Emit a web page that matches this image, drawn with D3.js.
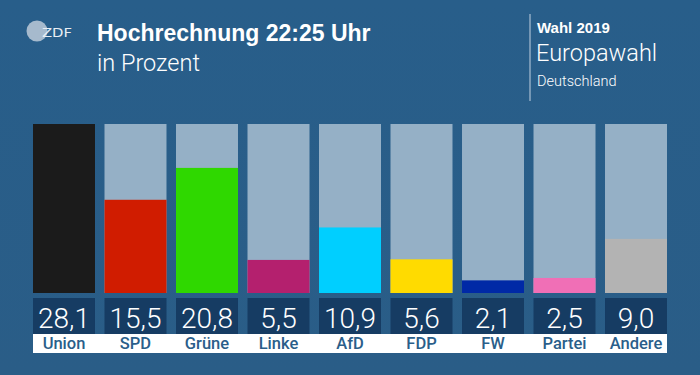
<!DOCTYPE html>
<html>
<head>
<meta charset="utf-8">
<script src="https://cdn.jsdelivr.net/npm/d3@7"></script>
<style>
  body { margin: 0; background: #285d88; }
  svg { display: block; }
</style>
</head>
<body>
<div id="chart"></div>
<script>
var parties = ["Union", "SPD", "Grüne", "Linke", "AfD", "FDP", "FW", "Partei", "Andere"];
var values = [28.1, 15.5, 20.8, 5.5, 10.9, 5.6, 2.1, 2.5, 9.0];
var colors = ["#1b1b1b", "#d01c00", "#2fd800", "#b4206e", "#00cfff", "#ffdb00", "#0029a6", "#f06fb6", "#b3b3b3"];

function init() {
    var w = 700;
    var h = 375;

    var svg = d3.select("#chart")
        .append("svg")
        .attr("width", w)
        .attr("height", h);

    // background
    var grad = svg.append("defs").append("linearGradient")
        .attr("id", "bg")
        .attr("x1", 0).attr("y1", 0).attr("x2", 0).attr("y2", 1);
    grad.append("stop").attr("offset", "0%").attr("stop-color", "#285e8a");
    grad.append("stop").attr("offset", "100%").attr("stop-color", "#2a5d87");

    svg.append("rect")
        .attr("width", w)
        .attr("height", h)
        .attr("fill", "url(#bg)");

    // header / logo
    var logo = svg.append("g");
    logo.append("circle")
        .attr("cx", 37).attr("cy", 31).attr("r", 10.5)
        .attr("fill", "#a6bacd");
    logo.append("text")
        .attr("x", 42).attr("y", 37)
        .attr("font-family", "DejaVu Sans, sans-serif")
        .attr("font-size", 12.5)
        .attr("textLength", 30)
        .attr("lengthAdjust", "spacingAndGlyphs")
        .attr("fill", "#e8eef4")
        .text("ZDF");

    svg.append("text")
        .attr("x", 97).attr("y", 41)
        .attr("font-family", "Liberation Sans, Arial, sans-serif")
        .attr("font-weight", "bold")
        .attr("font-size", 23)
        .attr("fill", "#ffffff")
        .text("Hochrechnung 22:25 Uhr");

    svg.append("text")
        .attr("x", 97).attr("y", 71)
        .attr("font-family", "Roboto, Liberation Sans, sans-serif")
        .attr("font-weight", 300)
        .attr("font-size", 23.5)
        .attr("fill", "#ffffff")
        .text("in Prozent");

    svg.append("line")
        .attr("x1", 530).attr("x2", 530)
        .attr("y1", 14).attr("y2", 101)
        .attr("stroke", "#a9bfd3")
        .attr("stroke-width", 1.2);

    svg.append("text")
        .attr("x", 537).attr("y", 33)
        .attr("font-family", "Liberation Sans, Arial, sans-serif")
        .attr("font-weight", "bold")
        .attr("font-size", 15)
        .attr("fill", "#ffffff")
        .text("Wahl 2019");

    svg.append("text")
        .attr("x", 536).attr("y", 61)
        .attr("font-family", "Roboto, Liberation Sans, sans-serif")
        .attr("font-weight", 300)
        .attr("font-size", 23.5)
        .attr("fill", "#ffffff")
        .text("Europawahl");

    svg.append("text")
        .attr("x", 537).attr("y", 86)
        .attr("font-family", "Roboto, Liberation Sans, sans-serif")
        .attr("font-weight", 300)
        .attr("font-size", 14.5)
        .attr("fill", "#ffffff")
        .text("Deutschland");

    // scales
    var xScale = d3.scaleBand()
        .domain(parties)
        .range([33, 667])
        .paddingInner(0.133)
        .paddingOuter(0);

    var yScale = d3.scaleLinear()
        .domain([0, d3.max(values)])
        .range([293, 124]);

    var data = parties.map(function(p, i) {
        return { party: p, value: values[i], color: colors[i] };
    });

    // bar backgrounds
    svg.selectAll(".barBg")
        .data(data)
        .enter()
        .append("rect")
        .attr("class", "barBg")
        .attr("x", function(d) { return xScale(d.party); })
        .attr("y", yScale.range()[1])
        .attr("width", xScale.bandwidth())
        .attr("height", yScale.range()[0] - yScale.range()[1])
        .attr("fill", "#95b0c6");

    // bars
    svg.selectAll(".bar")
        .data(data)
        .enter()
        .append("rect")
        .attr("class", "bar")
        .attr("x", function(d) { return xScale(d.party); })
        .attr("y", function(d) { return yScale(d.value); })
        .attr("width", xScale.bandwidth())
        .attr("height", function(d) { return yScale(0) - yScale(d.value); })
        .attr("fill", function(d) { return d.color; });

    // value boxes
    svg.selectAll(".valBox")
        .data(data)
        .enter()
        .append("rect")
        .attr("class", "valBox")
        .attr("x", function(d) { return xScale(d.party); })
        .attr("y", 298)
        .attr("width", xScale.bandwidth())
        .attr("height", 36)
        .attr("fill", "#163c63");

    svg.selectAll(".valText")
        .data(data)
        .enter()
        .append("text")
        .attr("class", "valText")
        .attr("x", function(d) { return xScale(d.party) + xScale.bandwidth() / 2; })
        .attr("y", 328)
        .attr("text-anchor", "middle")
        .attr("font-family", "Roboto, Liberation Sans, sans-serif")
        .attr("font-weight", 300)
        .attr("font-size", 28)
        .attr("fill", "#ffffff")
        .text(function(d) { return d3.format(".1f")(d.value).replace(".", ","); });

    // label band
    svg.append("rect")
        .attr("x", xScale.range()[0])
        .attr("y", 334)
        .attr("width", xScale.range()[1] - xScale.range()[0])
        .attr("height", 19)
        .attr("fill", "#ffffff");

    svg.selectAll(".label")
        .data(data)
        .enter()
        .append("text")
        .attr("class", "label")
        .attr("x", function(d) { return xScale(d.party) + xScale.bandwidth() / 2; })
        .attr("y", 348.5)
        .attr("text-anchor", "middle")
        .attr("font-family", "Roboto, Liberation Sans, sans-serif")
        .attr("font-weight", 500)
        .attr("font-size", 16.5)
        .attr("fill", "#2a5e8a")
        .text(function(d) { return d.party; });
}

window.onload = init;
</script>
</body>
</html>
